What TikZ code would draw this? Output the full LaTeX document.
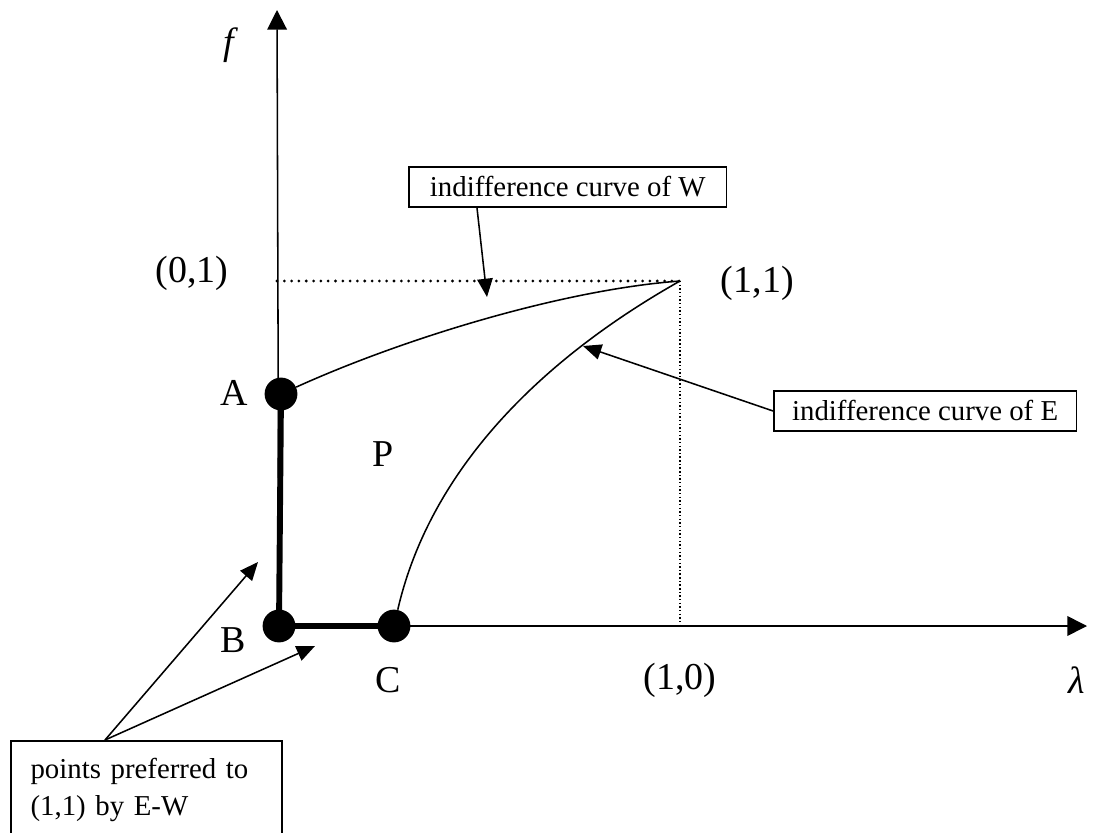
\documentclass[tikz,border=0pt]{standalone}
\usepackage{fontspec}
\setmainfont{Liberation Serif}
\usetikzlibrary{arrows.meta}
\begin{document}
\begin{tikzpicture}[x=0.025cm,y=-0.025cm,
  axis/.style={line width=1.1pt,-{Triangle[length=14pt,width=14pt]}},
  pointer/.style={line width=1.1pt,-{Triangle[length=13pt,width=11pt]}},
  dot/.style={circle,fill=black,inner sep=0pt,minimum size=0.82cm},
  label/.style={font=\fontsize{27}{30}\selectfont},
  note/.style={draw=black,line width=1.2pt,font=\fontsize{20.5}{27}\selectfont}]
\clip (0,0) rectangle (1096,833);
% axes
\coordinate (O) at (279,626);
\coordinate (ytip) at (277,10);
\coordinate (xtip) at (1087,626);
\draw[axis] (O) -- (ytip);
\draw[axis] (O) -- (xtip);
% points
\node[dot] (A) at (281,394) {};
\node[dot] (B) at (279,626) {};
\node[dot] (C) at (394,626) {};
\coordinate (P11) at (680,281);
\coordinate (Y1) at (277,281);
\coordinate (X1) at (680,626);
\draw[line width=4.2pt] (A.center) -- (B.center) -- (C.center);
% dotted guides
\draw[line width=2.2pt,line cap=round,dash pattern=on 0pt off 5.2pt] (Y1) -- (P11);
\draw[line width=0.9pt,dash pattern=on 1pt off 1.6pt] (P11) -- (X1);
% indifference curves
\draw[line width=1.1pt] (A) .. controls (400,340) and (560,290) .. (P11);
\draw[line width=1.1pt] (C) .. controls (430,470) and (540,360) .. (P11);
% labels
\node[label] (fl) at (231,45) {\textit{f}};
\node[label] (lam) at (1077,680) {\textit{λ}};
\node[label] (l01) at (192,273) {(0,1)};
\node[label,anchor=west] (l11) at (716,283) {(1,1)};
\node[label] (l10) at (680,680) {(1,0)};
\node[label] (lA) at (234,393) {A};
\node[label] (lB) at (233,640) {B};
\node[label] (lC) at (388,680) {C};
\node[label] (lP) at (383,454) {P};
% notes
\node[note,anchor=south west,inner xsep=15pt,inner ysep=7pt] (noteW) at (408,208) {indifference curve of W};
\node[note,anchor=north west,inner xsep=13pt,inner ysep=7pt] (noteE) at (773,390) {indifference curve of E};
\node[note,anchor=north west,align=left,text width=165pt,inner xsep=14pt,inner ysep=12pt] (noteP) at (10,740) {points preferred to\\(1,1) by E-W\\ \strut};
\coordinate (tW) at (487,297);
\coordinate (tE) at (583,346);
\coordinate (tAB) at (258,562);
\coordinate (tBC) at (315,646);
\coordinate (sP) at (105,740);
\coordinate (sW) at (477,208);
\draw[pointer] (sW) -- (tW);
\draw[pointer] (noteE.west) -- (tE);
\draw[pointer] (sP) -- (tAB);
\draw[pointer] (sP) -- (tBC);
\end{tikzpicture}
\end{document}
